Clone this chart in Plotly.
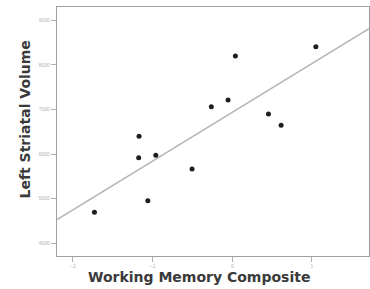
import numpy as np
import plotly.graph_objects as go

# Data
wm_composite = [-1.73, -1.17, -1.175, -0.96, -1.06, -0.505, -0.263, -0.053, 0.039, 0.454, 0.613, 1.049]
striatal_volume = [4690, 6398, 5917, 5971, 4951, 5663, 7063, 7213, 8202, 6899, 6645, 8411]
x_ticks = [-2, -1, 0, 1]
y_ticks = [4000, 5000, 6000, 7000, 8000, 9000]

x_range = [-2.2, 1.716]
y_range = [3708, 9303]

slope, intercept = np.polyfit(wm_composite, striatal_volume, 1)
line_x = np.array(x_range)
line_y = slope * line_x + intercept

fig = go.Figure()
fig.add_trace(go.Scatter(x=line_x, y=line_y, mode="lines",
                         line=dict(color="#b4b4b4", width=1.6), hoverinfo="skip"))
fig.add_trace(go.Scatter(x=wm_composite, y=striatal_volume, mode="markers",
                         marker=dict(color="#1e1e1e", size=5)))

axis_common = dict(showgrid=False, zeroline=False, showline=True, mirror=True,
                   linecolor="#a0a0a0", linewidth=1.2, ticks="outside",
                   tickcolor="#b0b0b0", ticklen=5,
                   tickfont=dict(size=5, color="#b0b0b0", family="Arial"))
fig.update_xaxes(range=x_range, tickvals=x_ticks, **axis_common)
fig.update_yaxes(range=y_range, tickvals=y_ticks, **axis_common)

fig.add_annotation(text="<b>Working Memory Composite</b>", xref="paper", yref="paper",
                   x=(199 - 57) / 312, y=(256 - 277) / 249, xanchor="center", yanchor="middle",
                   showarrow=False, font=dict(size=14, color="#3a3a3a", family="DejaVu Sans"))
fig.add_annotation(text="<b>Left Striatal Volume</b>", xref="paper", yref="paper",
                   x=(25 - 57) / 312, y=(256 - 119.5) / 249, xanchor="center", yanchor="middle",
                   showarrow=False, textangle=-90,
                   font=dict(size=14, color="#3a3a3a", family="DejaVu Sans"))

fig.update_layout(width=370, height=289, margin=dict(l=57, r=1, t=7, b=33),
                  paper_bgcolor="white", plot_bgcolor="white", showlegend=False)
fig.write_html("out.html", config={"displayModeBar": False},
               post_script="document.body.style.margin='0';")
